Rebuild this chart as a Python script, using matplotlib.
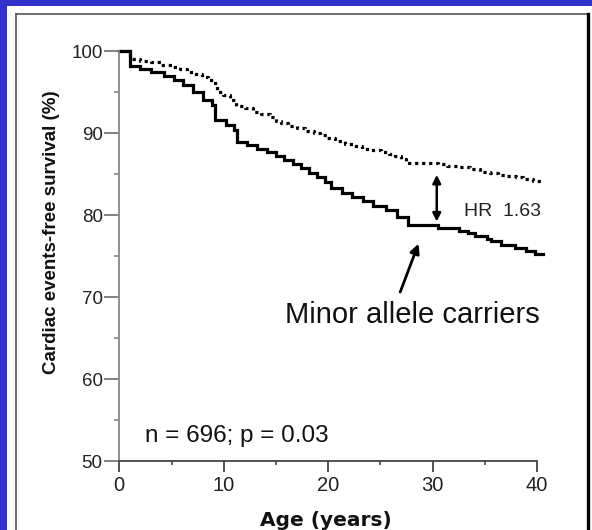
import matplotlib
matplotlib.use("Agg")
import matplotlib.pyplot as plt
from matplotlib.lines import Line2D
from matplotlib.patches import Rectangle
from matplotlib.ticker import MultipleLocator

# Kaplan-Meier step curves: (age, survival % after the step)
carrier_age = [0, 1.0, 2.0, 3.0, 4.3, 5.2, 6.1, 7.1, 8.0, 8.9, 9.2, 10.2, 11.0, 11.3,
               12.2, 13.2, 14.1, 15.0, 15.8, 16.6, 17.4, 18.2, 18.9, 19.7, 20.3, 21.3,
               22.3, 23.3, 24.3, 25.5, 26.6, 27.6, 30.5, 32.5, 33.4, 34.1, 35.2, 35.6,
               36.6, 37.9, 38.9, 39.8, 40.6]
carrier_surv = [100, 98.2, 97.8, 97.4, 97.0, 96.5, 95.9, 95.0, 94.0, 93.4, 91.6, 91.0,
                90.4, 88.9, 88.5, 88.1, 87.7, 87.2, 86.7, 86.2, 85.7, 85.1, 84.6, 84.0,
                83.3, 82.7, 82.2, 81.7, 81.1, 80.6, 79.8, 78.8, 78.4, 78.1, 77.8, 77.5,
                77.1, 76.8, 76.4, 76.0, 75.6, 75.2, 75.2]

noncarrier_age = [0, 1.0, 2.0, 3.0, 4.0, 5.0, 5.8, 6.5, 7.2, 7.9, 8.5, 9.0, 9.4, 9.9,
                  10.6, 11.2, 12.0, 12.8, 13.6, 14.4, 15.0, 15.5, 16.2, 17.0, 17.8, 18.6,
                  19.2, 19.9, 20.7, 21.6, 22.4, 23.2, 24.1, 25.1, 25.8, 26.4, 27.0, 27.5,
                  30.5, 31.4, 32.5, 33.6, 34.5, 35.5, 36.3, 37.1, 38.0, 38.7, 39.6, 40.2,
                  40.6]
noncarrier_surv = [100, 99.0, 98.8, 98.6, 98.3, 98.1, 97.8, 97.5, 97.2, 96.8, 96.5, 96.1,
                   95.0, 94.6, 94.0, 93.3, 93.0, 92.6, 92.3, 92.0, 91.5, 91.2, 90.9, 90.6,
                   90.3, 90.0, 89.7, 89.4, 89.0, 88.7, 88.4, 88.1, 87.9, 87.7, 87.5, 87.2,
                   86.8, 86.4, 86.2, 86.0, 85.9, 85.6, 85.3, 85.1, 84.9, 84.7, 84.6, 84.4,
                   84.2, 84.1, 84.1]

x_ticks = [0, 10, 20, 30, 40]
y_ticks = [50, 60, 70, 80, 90, 100]

W, H = 592, 530
BLUE = "#3333cc"
TEXT_FONT = ["Liberation Sans", "DejaVu Sans"]

fig = plt.figure(figsize=(W / 100, H / 100), dpi=100, facecolor=BLUE)


def fx(px):
    return px / W


def fy(py):
    return 1 - py / H


# white panel inside the blue frame, with its thin border
fig.patches.append(Rectangle((fx(7), 0), 1 - fx(7), fy(6), transform=fig.transFigure,
                             facecolor="white", edgecolor="none", zorder=-10))
fig.add_artist(Line2D([fx(15.5), fx(15.5)], [0, fy(13.5)], color="#555555", lw=1.2))
fig.add_artist(Line2D([fx(15.5), fx(588)], [fy(13.5), fy(13.5)], color="#555555", lw=1.2))
fig.add_artist(Line2D([fx(587.5), fx(587.5)], [0, fy(13.5)], color="black", lw=2.4))

ax = fig.add_axes([fx(119.3), fy(461), fx(537) - fx(119.3), fy(51) - fy(461)])
ax.set_zorder(1)
ax.set_facecolor("none")

ax.step(carrier_age, carrier_surv, where="post", color="black", lw=2.3, clip_on=False,
        solid_joinstyle="miter")
ax.step(noncarrier_age, noncarrier_surv, where="post", color="black", lw=2.3,
        linestyle=(0, (1, 1.2)), clip_on=False)

ax.set_xlim(0, 40)
ax.set_ylim(50, 100)

for side in ["top", "right"]:
    ax.spines[side].set_visible(False)
ax.spines["left"].set_color("#888888")
ax.spines["left"].set_linewidth(1.3)
ax.spines["bottom"].set_color("#444444")
ax.spines["bottom"].set_linewidth(1.3)

ax.set_xticks(x_ticks)
ax.set_yticks(y_ticks)
ax.xaxis.set_minor_locator(MultipleLocator(5))
ax.yaxis.set_minor_locator(MultipleLocator(5))
ax.tick_params(axis="y", which="major", length=11, width=1.3, color="#777777", pad=1,
               labelsize=13.5, labelcolor="#222222")
ax.tick_params(axis="y", which="minor", length=3.5, width=1.2, color="#888888")
ax.tick_params(axis="x", which="major", length=8, width=1.3, color="#444444", pad=3,
               labelsize=14.5, labelcolor="#222222")
ax.tick_params(axis="x", which="minor", length=3, width=1.2, color="#444444")
for lab in ax.get_xticklabels() + ax.get_yticklabels():
    lab.set_family(TEXT_FONT)

# hazard ratio double arrow
ax.annotate("", xy=(30.4, 84.9), xytext=(30.4, 79.2),
            arrowprops=dict(arrowstyle="<|-|>", color="black", lw=1.8,
                            mutation_scale=12, shrinkA=0, shrinkB=0))
ax.text(33.0, 80.4, "HR  1.63", fontsize=14, family=TEXT_FONT, color="#222222",
        ha="left", va="center")

# arrow to the carriers curve
ax.annotate("", xy=(28.65, 76.5), xytext=(26.9, 70.6),
            arrowprops=dict(arrowstyle="-|>", color="black", lw=2.0,
                            mutation_scale=14, shrinkA=0, shrinkB=0))
ax.text(40.3, 67.8, "Minor allele carriers", fontsize=21, family=TEXT_FONT,
        color="#111111", ha="right", va="center")

ax.text(2.45, 53.0, "n = 696; p = 0.03", fontsize=17.5, family=TEXT_FONT,
        color="#111111", ha="left", va="center")

fig.text(fx(52), fy(232.5), "Cardiac events-free survival (%)", rotation=90,
         fontsize=13.5, fontweight="bold", family=TEXT_FONT, color="#111111",
         ha="center", va="center")
fig.text(fx(326), fy(520), "Age (years)", fontsize=14.5, fontweight="bold",
         family="DejaVu Sans", color="#111111", ha="center", va="center")

fig.savefig("out.png", dpi=100, facecolor=BLUE)
